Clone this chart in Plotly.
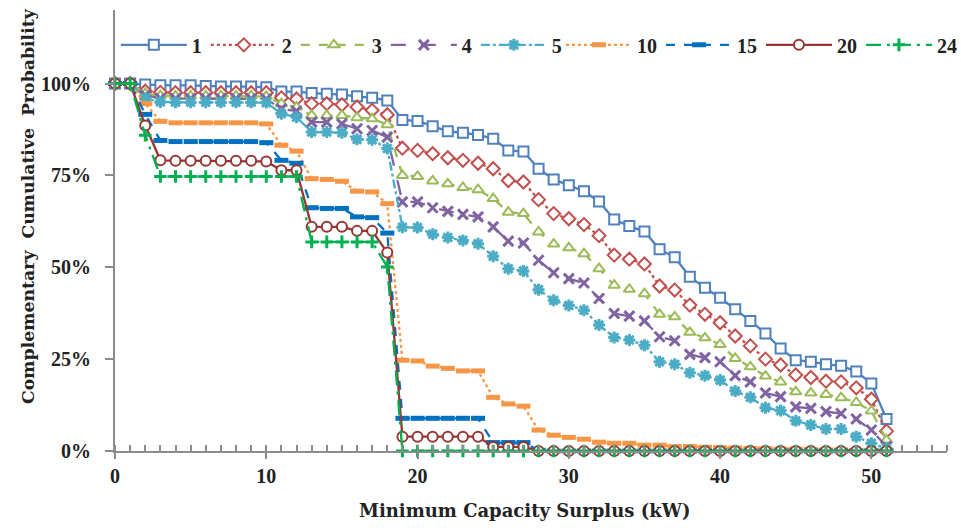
import plotly.graph_objects as go

x_kw = list(range(0, 52))

s1 = [100, 100, 99.7, 99.5, 99.5, 99.5, 99.3, 99.2, 99.2, 99.2, 99.0, 97.8, 97.8, 97.4, 97.2, 97.0, 96.5, 96.1, 95.4,
      90.1, 89.8, 88.4, 87.0, 86.6, 86.0, 85.0, 81.8, 81.5, 76.8, 73.9, 72.3, 70.7, 67.9, 63.0, 61.2, 59.7, 54.9, 52.7,
      47.4, 44.4, 41.7, 38.6, 35.4, 32.0, 27.9, 24.7, 24.3, 23.6, 23.2, 21.6, 18.4, 8.7]
s2 = [100, 100, 97.9, 97.6, 97.5, 97.5, 97.5, 97.5, 97.5, 97.5, 97.5, 96.1, 95.8, 94.5, 94.5, 94.2, 93.6, 92.7, 91.5,
      82.4, 81.8, 80.9, 79.8, 79.1, 78.3, 76.8, 73.6, 73.2, 68.4, 64.6, 63.2, 61.6, 58.6, 53.3, 52.2, 50.9, 44.9, 43.8,
      39.7, 37.2, 34.9, 31.3, 28.6, 25.0, 23.4, 20.7, 20.0, 19.0, 18.8, 17.2, 14.1, 5.4]
s3 = [100, 100, 97.3, 96.7, 96.6, 96.6, 96.6, 96.6, 96.6, 96.6, 96.5, 94.5, 93.6, 91.3, 91.3, 91.3, 90.7, 90.4, 88.8,
      75.0, 74.7, 73.5, 72.7, 71.7, 71.1, 68.7, 65.0, 64.6, 59.6, 56.3, 55.3, 53.7, 49.6, 45.1, 44.0, 42.8, 37.2, 36.5,
      32.3, 30.8, 29.0, 25.2, 22.9, 20.4, 18.8, 16.1, 15.8, 15.4, 14.5, 13.2, 10.9, 3.0]
s4 = [100, 100, 96.8, 96.0, 95.9, 95.9, 95.9, 95.9, 95.9, 95.9, 95.8, 93.1, 92.5, 89.5, 89.5, 89.0, 87.7, 87.2, 85.4,
      67.8, 67.8, 66.2, 65.2, 64.4, 63.7, 61.0, 57.1, 56.6, 51.9, 48.5, 46.9, 45.7, 41.5, 37.4, 36.7, 35.4, 31.1, 30.0,
      26.3, 25.4, 24.3, 20.5, 18.8, 15.8, 14.8, 12.0, 11.6, 10.7, 10.2, 8.7, 5.7, 1.2]
s5 = [100, 100, 96.0, 95.0, 94.9, 94.9, 94.9, 94.9, 94.9, 94.9, 94.8, 91.8, 90.8, 86.8, 86.8, 86.6, 84.8, 84.7, 82.3,
      60.9, 60.8, 59.0, 58.1, 57.3, 56.4, 53.0, 49.6, 49.0, 43.9, 41.0, 39.6, 38.3, 34.3, 30.9, 30.2, 28.8, 24.3, 23.6,
      21.3, 20.5, 19.3, 16.3, 14.6, 11.8, 11.0, 8.2, 7.1, 6.0, 6.0, 3.9, 2.1, 0.7]
s10 = [100, 100, 94.5, 89.7, 89.3, 89.3, 89.3, 89.3, 89.3, 89.3, 89.0, 83.2, 81.6, 74.1, 73.9, 73.4, 70.7, 70.5, 67.3,
       24.7, 24.5, 23.1, 22.5, 21.8, 21.8, 14.6, 12.8, 12.2, 5.7, 4.3, 3.7, 3.2, 2.4, 2.1, 2.1, 1.6, 1.6, 1.2,
       1.2, 1.0, 0.9, 0.8, 0.7, 0.6, 0.5, 0.5, 0.4, 0.3, 0.3, 0.2, 0.2, 0.1]
s15 = [100, 100, 91.6, 84.5, 84.2, 84.2, 84.2, 84.2, 84.2, 84.2, 83.9, 79.1, 78.3, 66.2, 66.0, 66.0, 63.7, 63.5, 59.3,
       8.9, 8.9, 8.9, 8.9, 8.9, 8.9, 2.3, 2.3, 2.3, 0.2, 0, 0, 0, 0, 0, 0, 0, 0, 0,
       0, 0, 0, 0, 0, 0, 0, 0, 0, 0, 0, 0, 0, 0]
s20 = [100, 100, 88.6, 79.1, 79.0, 79.0, 79.0, 79.0, 79.0, 79.0, 78.8, 76.4, 76.4, 61.0, 61.0, 61.0, 59.9, 59.9, 54.0,
       3.9, 3.9, 3.9, 3.9, 3.9, 3.9, 1.1, 1.1, 1.1, 0, 0, 0, 0, 0, 0, 0, 0, 0, 0,
       0, 0, 0, 0, 0, 0, 0, 0, 0, 0, 0, 0, 0, 0]
s24 = [100, 100, 85.9, 74.7, 74.7, 74.7, 74.7, 74.7, 74.7, 74.7, 74.7, 74.7, 74.7, 56.9, 56.9, 56.9, 56.9, 56.9, 50.1,
       0, 0, 0, 0, 0, 0, 0, 0, 0, 0, 0, 0, 0, 0, 0, 0, 0, 0, 0,
       0, 0, 0, 0, 0, 0, 0, 0, 0, 0, 0, 0, 0, 0]

series_names = ["1", "2", "3", "4", "5", "10", "15", "20", "24"]
series_values = [s1, s2, s3, s4, s5, s10, s15, s20, s24]

y_tickvals = [0, 25, 50, 75, 100]
y_ticktext = ["0%", "25%", "50%", "75%", "100%"]

styles = [
    dict(color="#4F81BD", dash="solid", symbol="square", size=10, fill="white", lw=2),
    dict(color="#C0504D", dash="dot", symbol="diamond", size=10, fill="white", lw=2),
    dict(color="#9BBB59", dash="dash", symbol="triangle-up", size=10, fill="white", lw=2),
    dict(color="#8064A2", dash="longdash", symbol="x-thin", size=10, fill="#8064A2", lw=3),
    dict(color="#4BACC6", dash="dashdot", symbol="asterisk", size=10, fill="#4BACC6", lw=3),
    dict(color="#F79646", dash="dot", symbol="line-ew", size=10, fill="#F79646", lw=5),
    dict(color="#0070C0", dash="dash", symbol="line-ew", size=10, fill="#0070C0", lw=5),
    dict(color="#953735", dash="solid", symbol="circle", size=10, fill="white", lw=2),
    dict(color="#00B050", dash="longdashdot", symbol="cross-thin", size=9, fill="#00B050", lw=3),
]

title_font = "DejaVu Serif"
tick_font = "Liberation Serif"
text_color = "#222222"
pad = "\u00a0\u00a0"

fig = go.Figure()
for i, (name, vals, st) in enumerate(zip(series_names, series_values, styles)):
    fig.add_trace(go.Scatter(
        x=x_kw, y=vals, name=name, mode="lines+markers",
        line=dict(color=st["color"], width=2.3, dash=st["dash"]),
        marker=dict(symbol=st["symbol"], size=st["size"], color=st["fill"],
                    line=dict(color=st["color"], width=st["lw"])),
        cliponaxis=False,
        legend="legend" if i < 5 else "legend2",
        legendwidth=9 if len(name) == 1 else 19,
    ))

legend_common = dict(
    orientation="h", yanchor="middle", y=0.921, xanchor="left",
    font=dict(family=tick_font, size=20, weight="bold", color=text_color),
    itemwidth=66, bgcolor="rgba(0,0,0,0)", borderwidth=0,
)

fig.update_layout(
    width=961, height=528,
    margin=dict(l=115, r=14, t=10, b=77, autoexpand=False),
    paper_bgcolor="white", plot_bgcolor="white",
    font=dict(family=title_font, color=text_color, size=17),
    showlegend=True,
    legend=dict(x=0.001, **legend_common),
    legend2=dict(x=0.536, **legend_common),
    xaxis=dict(
        range=[0, 55], dtick=10, tick0=0,
        showgrid=False, zeroline=False,
        showline=True, linecolor="#8C8C8C", linewidth=2,
        ticks="outside", ticklen=6, tickwidth=2, tickcolor="#8C8C8C",
        minor=dict(dtick=1, ticks="inside", ticklen=6, tickwidth=1.5, tickcolor="#8C8C8C", showgrid=False),
        tickfont=dict(family=tick_font, size=20, weight="bold", color=text_color),
    ),
    yaxis=dict(
        range=[0, 120], tickvals=y_tickvals, ticktext=[t + pad for t in y_ticktext],
        showgrid=False, zeroline=False,
        showline=True, linecolor="#8C8C8C", linewidth=2,
        ticks="outside", ticklen=8, tickwidth=2, tickcolor="#8C8C8C",
        tickfont=dict(family=tick_font, size=20, weight="bold", color=text_color),
    ),
    annotations=[
        dict(text="Minimum Capacity Surplus (kW)", xref="paper", yref="paper",
             x=0.4916, y=-0.136, xanchor="center", yanchor="middle", showarrow=False,
             font=dict(family=title_font, size=18, weight="bold", color=text_color)),
        dict(text="Complementary  Cumulative  Probability", xref="paper", yref="paper",
             x=-0.1046, y=0.5556, xanchor="center", yanchor="middle", showarrow=False, textangle=-90,
             font=dict(family=title_font, size=17.3, weight="bold", color=text_color)),
    ],
)

fig.write_html("out.html")
